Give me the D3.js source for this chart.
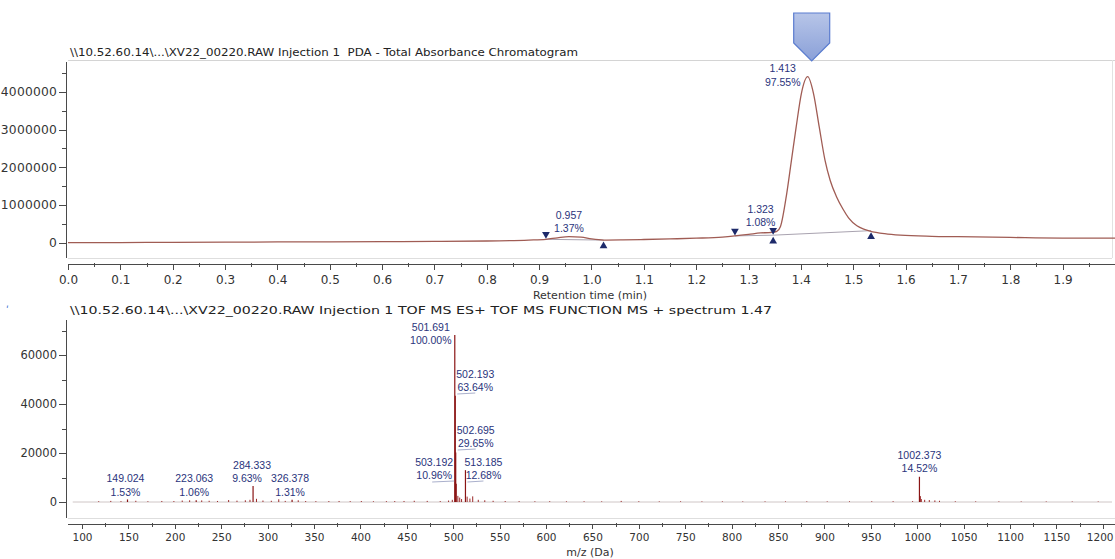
<!DOCTYPE html>
<html>
<head>
<meta charset="utf-8">
<script src="https://cdn.jsdelivr.net/npm/d3@7/dist/d3.min.js"></script>
<style>
  html, body { margin: 0; padding: 0; background: #ffffff; }
  svg { display: block; }
  .axis path, .axis line { stroke: #4a4a4a; shape-rendering: crispEdges; }
  .axis text { fill: #333; font-family: "DejaVu Sans", sans-serif; }
</style>
</head>
<body>
<svg id="chart" width="1115" height="559"></svg>
<script>
// ---------------- DATA ----------------
// Top panel: PDA total absorbance chromatogram (time in min, signal)
const chromTime = [0, 0.1, 0.2, 0.3, 0.4, 0.5, 0.6, 0.7, 0.8, 0.88, 0.913, 0.935, 0.957, 0.98, 1.0, 1.023, 1.06, 1.1, 1.15, 1.2, 1.25, 1.274, 1.30, 1.323, 1.34, 1.347, 1.354, 1.361, 1.373, 1.382, 1.391, 1.401, 1.413, 1.424, 1.435, 1.446, 1.456, 1.468, 1.48, 1.491, 1.507, 1.52, 1.532, 1.56, 1.59, 1.65, 1.7, 1.8, 1.95, 2.0];
const chromSignal = [0, 5000, 10000, 15000, 20000, 25000, 30000, 35000, 45000, 70000, 90000, 130000, 160000, 150000, 100000, 70000, 75000, 85000, 100000, 120000, 150000, 180000, 220000, 260000, 270000, 280000, 300000, 430000, 1310000, 2190000, 3070000, 3960000, 4400000, 3960000, 3070000, 2190000, 1650000, 1220000, 900000, 660000, 450000, 360000, 310000, 240000, 200000, 170000, 160000, 140000, 120000, 120000];

// Integrated peaks
const peakTimes = [0.957, 1.323, 1.413];
const peakAreas = ["1.37%", "1.08%", "97.55%"];
const peakApex = [160000, 260000, 4400000];
const integStart = [0.913, 1.274, 1.347];
const integEnd = [1.023, 1.347, 1.534];
const integStartLevel = [90000, 180000, 200000];
const integEndLevel = [70000, 200000, 320000];

const topYTicks = [0, 1000000, 2000000, 3000000, 4000000];
const topYMinor = [500000, 1500000, 2500000, 3500000, 4500000];
const topXTicks = [0.0, 0.1, 0.2, 0.3, 0.4, 0.5, 0.6, 0.7, 0.8, 0.9, 1.0, 1.1, 1.2, 1.3, 1.4, 1.5, 1.6, 1.7, 1.8, 1.9];

// Bottom panel: TOF MS ES+ spectrum at 1.47 min (m/z, intensity)
const labelledMz = [149.024, 223.063, 284.333, 326.378, 501.691, 502.193, 502.695, 503.192, 513.185, 1002.373];
const labelledPct = ["1.53%", "1.06%", "9.63%", "1.31%", "100.00%", "63.64%", "29.65%", "10.96%", "12.68%", "14.52%"];
const labelledIntensity = [1050, 730, 6500, 900, 68200, 43400, 20200, 7500, 13000, 10300];

const noiseMz = [118, 131, 142, 158, 171, 186, 199, 208, 216, 229, 237, 246, 258, 267, 276, 281, 288, 295, 304, 312, 319, 333, 341, 352, 366, 377, 389, 401, 414, 428, 437, 447, 458, 472, 486, 495, 499, 505, 507, 509, 515, 518, 521, 527, 534, 543, 556, 571, 588, 604, 622, 641, 660, 681, 700, 722, 745, 768, 790, 812, 836, 858, 881, 903, 927, 951, 974, 995, 1003.4, 1004.4, 1008, 1013, 1019, 1024, 1041, 1063, 1088, 1112, 1139, 1167, 1195];
const noiseIntensity = [300, 450, 350, 500, 300, 420, 380, 600, 700, 650, 500, 420, 800, 550, 700, 900, 1300, 600, 500, 1100, 450, 700, 400, 350, 380, 420, 350, 400, 300, 350, 380, 420, 500, 450, 380, 600, 900, 2500, 1800, 1200, 2200, 1400, 2300, 900, 700, 500, 400, 350, 300, 320, 280, 300, 260, 450, 300, 260, 280, 240, 260, 230, 250, 240, 260, 250, 280, 300, 320, 350, 2400, 1200, 900, 800, 650, 500, 300, 260, 240, 220, 230, 220, 210];

const msYTicks = [0, 20000, 40000, 60000];
const msYMinor = [10000, 30000, 50000, 70000];
const msXTicks = [100, 150, 200, 250, 300, 350, 400, 450, 500, 550, 600, 650, 700, 750, 800, 850, 900, 950, 1000, 1050, 1100, 1150, 1200];

const topTitle = "\\\\10.52.60.14\\...\\XV22_00220.RAW Injection 1\u00A0 PDA - Total Absorbance Chromatogram";
const msTitle = "\\\\10.52.60.14\\...\\XV22_00220.RAW Injection 1 TOF MS ES+ TOF MS FUNCTION MS + spectrum 1.47";
const topXTitle = "Retention time (min)";
const msXTitle = "m/z (Da)";

// ---------------- DRAWING ----------------
const svg = d3.select("#chart");
const FONT = "DejaVu Sans, sans-serif";
const LABEL_FONT = "Liberation Sans, Arial, sans-serif";
const navy = "#2a347c";

const defs = svg.append("defs");
const grad = defs.append("linearGradient").attr("id", "arrowGrad")
  .attr("x1", 0).attr("y1", 0).attr("x2", 0).attr("y2", 1);
grad.append("stop").attr("offset", "0%").attr("stop-color", "#b7c5e8");
grad.append("stop").attr("offset", "100%").attr("stop-color", "#8aa0d8");

// ===== TOP PANEL =====
const tx = d3.scaleLinear().domain([-0.0038, 2.0]).range([66, 1115]);
const ty = d3.scaleLinear().domain([-405000, 4790000]).range([258, 62]);

svg.append("line").attr("x1", 68).attr("x2", 1115).attr("y1", 60.5).attr("y2", 60.5).attr("stroke", "#d4d4d4");
svg.append("line").attr("x1", 68).attr("x2", 1112).attr("y1", 258.5).attr("y2", 258.5).attr("stroke", "#dedede");
svg.append("line").attr("x1", 1112.5).attr("x2", 1112.5).attr("y1", 60).attr("y2", 258).attr("stroke", "#e2e2e2");

svg.append("text").attr("x", 70).attr("y", 56)
  .attr("font-family", FONT).attr("font-size", 11).attr("fill", "#222")
  .attr("textLength", 508).attr("lengthAdjust", "spacingAndGlyphs")
  .text(topTitle);

const topYAxis = svg.append("g").attr("class", "axis").attr("transform", "translate(66,0)")
  .call(d3.axisLeft(ty).tickValues(topYTicks).tickFormat(d3.format("d")).tickSize(7).tickSizeOuter(0).tickPadding(2));
topYAxis.select(".domain").attr("d", `M0.5,${62}V${258}`);
topYAxis.selectAll("text").attr("font-size", 12.3).attr("letter-spacing", 0.2);
topYAxis.selectAll(".minor").data(topYMinor).enter().append("line")
  .attr("x1", -4).attr("x2", 0).attr("y1", d => Math.round(ty(d)) + 0.5).attr("y2", d => Math.round(ty(d)) + 0.5)
  .attr("stroke", "#4a4a4a");

const topXAxis = svg.append("g").attr("class", "axis").attr("transform", "translate(0,264)")
  .call(d3.axisBottom(tx).tickValues(topXTicks).tickFormat(d3.format(".1f")).tickSize(6).tickSizeOuter(0).tickPadding(5));
topXAxis.select(".domain").attr("d", `M68,0.5H1115`);
topXAxis.selectAll("text").attr("font-size", 12);
topXAxis.selectAll(".minor").data(d3.range(0.05, 2.0, 0.1)).enter().append("line")
  .attr("x1", d => Math.round(tx(d)) + 0.5).attr("x2", d => Math.round(tx(d)) + 0.5)
  .attr("y1", -1).attr("y2", 3).attr("stroke", "#4a4a4a");

svg.append("text").attr("x", 590).attr("y", 299).attr("text-anchor", "middle")
  .attr("font-family", FONT).attr("font-size", 11).attr("fill", "#333").text(topXTitle);

// integration baselines
svg.append("g").selectAll("line").data(peakTimes).enter().append("line")
  .attr("x1", (d, i) => tx(integStart[i])).attr("y1", (d, i) => ty(integStartLevel[i]))
  .attr("x2", (d, i) => tx(integEnd[i])).attr("y2", (d, i) => ty(integEndLevel[i]))
  .attr("stroke", "#a9a3b0").attr("stroke-width", 1);

// chromatogram
const chromData = chromTime.map((t, i) => [t, chromSignal[i]]);
svg.append("path").datum(chromData)
  .attr("d", d3.line().x(d => tx(d[0])).y(d => ty(d[1])).curve(d3.curveMonotoneX))
  .attr("fill", "none").attr("stroke", "#a05c54").attr("stroke-width", 1.3);

// markers
const tri = d3.symbol().type(d3.symbolTriangle).size(26);
svg.append("g").selectAll("path").data(integStart).enter().append("path")
  .attr("d", tri)
  .attr("transform", (d, i) => `translate(${tx(d)},${ty(integStartLevel[i]) - 5}) rotate(180)`)
  .attr("fill", "#1d2a6a");
svg.append("g").selectAll("path").data(integEnd).enter().append("path")
  .attr("d", tri)
  .attr("transform", (d, i) => `translate(${tx(d)},${ty(integEndLevel[i]) + 6})`)
  .attr("fill", "#1d2a6a");

// peak labels
const topLabelDx = [0, 0, -25];
const topLabelDy = [-5, -7, 9];
const topLabelGap = [12.5, 12.5, 14];
const topLabels = svg.append("g").attr("font-family", LABEL_FONT).attr("font-size", 10.5).attr("fill", navy).attr("text-anchor", "middle");
peakTimes.forEach((t, i) => {
  const x = tx(t) + topLabelDx[i];
  const y = ty(peakApex[i]) + topLabelDy[i];
  topLabels.append("text").attr("x", x).attr("y", y - topLabelGap[i]).text(d3.format(".3f")(t));
  topLabels.append("text").attr("x", x).attr("y", y).text(peakAreas[i]);
});

// highlight arrow over main peak
const ax = tx(peakTimes[2]) + 4;
svg.append("path")
  .attr("d", `M${ax - 18},13 H${ax + 18} V43 L${ax},61 L${ax - 18},43 Z`)
  .attr("fill", "url(#arrowGrad)").attr("stroke", "#5a7ccf").attr("stroke-width", 1.2);

// ===== BOTTOM PANEL =====
const mx = d3.scaleLinear().domain([82.76, 1213.1]).range([66, 1115]);
const my = d3.scaleLinear().domain([-6530, 74290]).range([518, 320]);

svg.append("text").attr("x", 70).attr("y", 314)
  .attr("font-family", FONT).attr("font-size", 11).attr("fill", "#222")
  .attr("textLength", 702).attr("lengthAdjust", "spacingAndGlyphs")
  .text(msTitle);
svg.append("text").attr("x", 6).attr("y", 314).attr("font-family", FONT).attr("font-size", 10).attr("fill", "#3a6fd0").text("\u02B9");

svg.append("line").attr("x1", 68).attr("x2", 1115).attr("y1", 518.5).attr("y2", 518.5).attr("stroke", "#dedede");

const msYAxis = svg.append("g").attr("class", "axis").attr("transform", "translate(66,0)")
  .call(d3.axisLeft(my).tickValues(msYTicks).tickFormat(d3.format("d")).tickSize(7).tickSizeOuter(0).tickPadding(2));
msYAxis.select(".domain").attr("d", `M0.5,320V518`);
msYAxis.selectAll("text").attr("font-size", 11.5);
msYAxis.selectAll(".minor").data(msYMinor).enter().append("line")
  .attr("x1", -4).attr("x2", 0).attr("y1", d => Math.round(my(d)) + 0.5).attr("y2", d => Math.round(my(d)) + 0.5)
  .attr("stroke", "#4a4a4a");

const msXAxis = svg.append("g").attr("class", "axis").attr("transform", "translate(0,524)")
  .call(d3.axisBottom(mx).tickValues(msXTicks).tickFormat(d3.format("d")).tickSize(5).tickSizeOuter(0).tickPadding(5));
msXAxis.select(".domain").attr("d", `M68,0.5H1115`);
msXAxis.selectAll("text").attr("font-size", 10.5);
// keep the last label inside the picture
msXAxis.selectAll(".tick").filter(d => d === 1200).select("text")
  .attr("text-anchor", "end").attr("x", 1113 - mx(1200));
msXAxis.selectAll(".minor").data(d3.range(125, 1213, 50)).enter().append("line")
  .attr("x1", d => Math.round(mx(d)) + 0.5).attr("x2", d => Math.round(mx(d)) + 0.5)
  .attr("y1", -1).attr("y2", 3).attr("stroke", "#4a4a4a");

svg.append("text").attr("x", 590).attr("y", 556).attr("text-anchor", "middle")
  .attr("font-family", FONT).attr("font-size", 11).attr("fill", "#333").text(msXTitle);

// zero baseline
svg.append("line").attr("x1", mx(90)).attr("x2", 1112).attr("y1", my(0)).attr("y2", my(0))
  .attr("stroke", "#cfc6c6").attr("stroke-width", 1);

// noise sticks
svg.append("g").selectAll("line").data(noiseMz).enter().append("line")
  .attr("x1", d => mx(d)).attr("x2", d => mx(d))
  .attr("y1", my(0)).attr("y2", (d, i) => my(noiseIntensity[i]))
  .attr("stroke", "#9b2a2a").attr("stroke-width", 1);

// labelled sticks
svg.append("g").selectAll("line").data(labelledMz).enter().append("line")
  .attr("x1", d => mx(d)).attr("x2", d => mx(d))
  .attr("y1", my(0)).attr("y2", (d, i) => my(labelledIntensity[i]))
  .attr("stroke", "#8a1414").attr("stroke-width", 1.2);

// spectrum labels
const msLabelDx = [-2, -2, -1, -2, -24, 20, 20, -22, 18, 0];
const msLabelY = [491.7, 491.7, 478, 491.7, 340, 387, 443, 475, 475, 468];
const leaderIdx = [5, 6, 7, 8];
const msLabels = svg.append("g").attr("font-family", LABEL_FONT).attr("font-size", 10.5).attr("fill", navy).attr("text-anchor", "middle");
labelledMz.forEach((m, i) => {
  const x = mx(m) + msLabelDx[i];
  const y = msLabelY[i] + 4;
  const pctDx = (i === 2) ? -5 : 0;
  msLabels.append("text").attr("x", x).attr("y", y - 13.5).text(d3.format(".3f")(m));
  msLabels.append("text").attr("x", x + pctDx).attr("y", y).text(labelledPct[i]);
  if (leaderIdx.includes(i)) {
    const x0 = (msLabelDx[i] > 0) ? mx(m) + 2 : x - 2;
    const x1 = (msLabelDx[i] > 0) ? x : mx(m) - 2;
    svg.append("line").attr("x1", x0).attr("x2", x1).attr("y1", y + 3).attr("y2", y + 2)
      .attr("stroke", "#aab0cc").attr("stroke-width", 1);
  }
});
</script>
</body>
</html>
